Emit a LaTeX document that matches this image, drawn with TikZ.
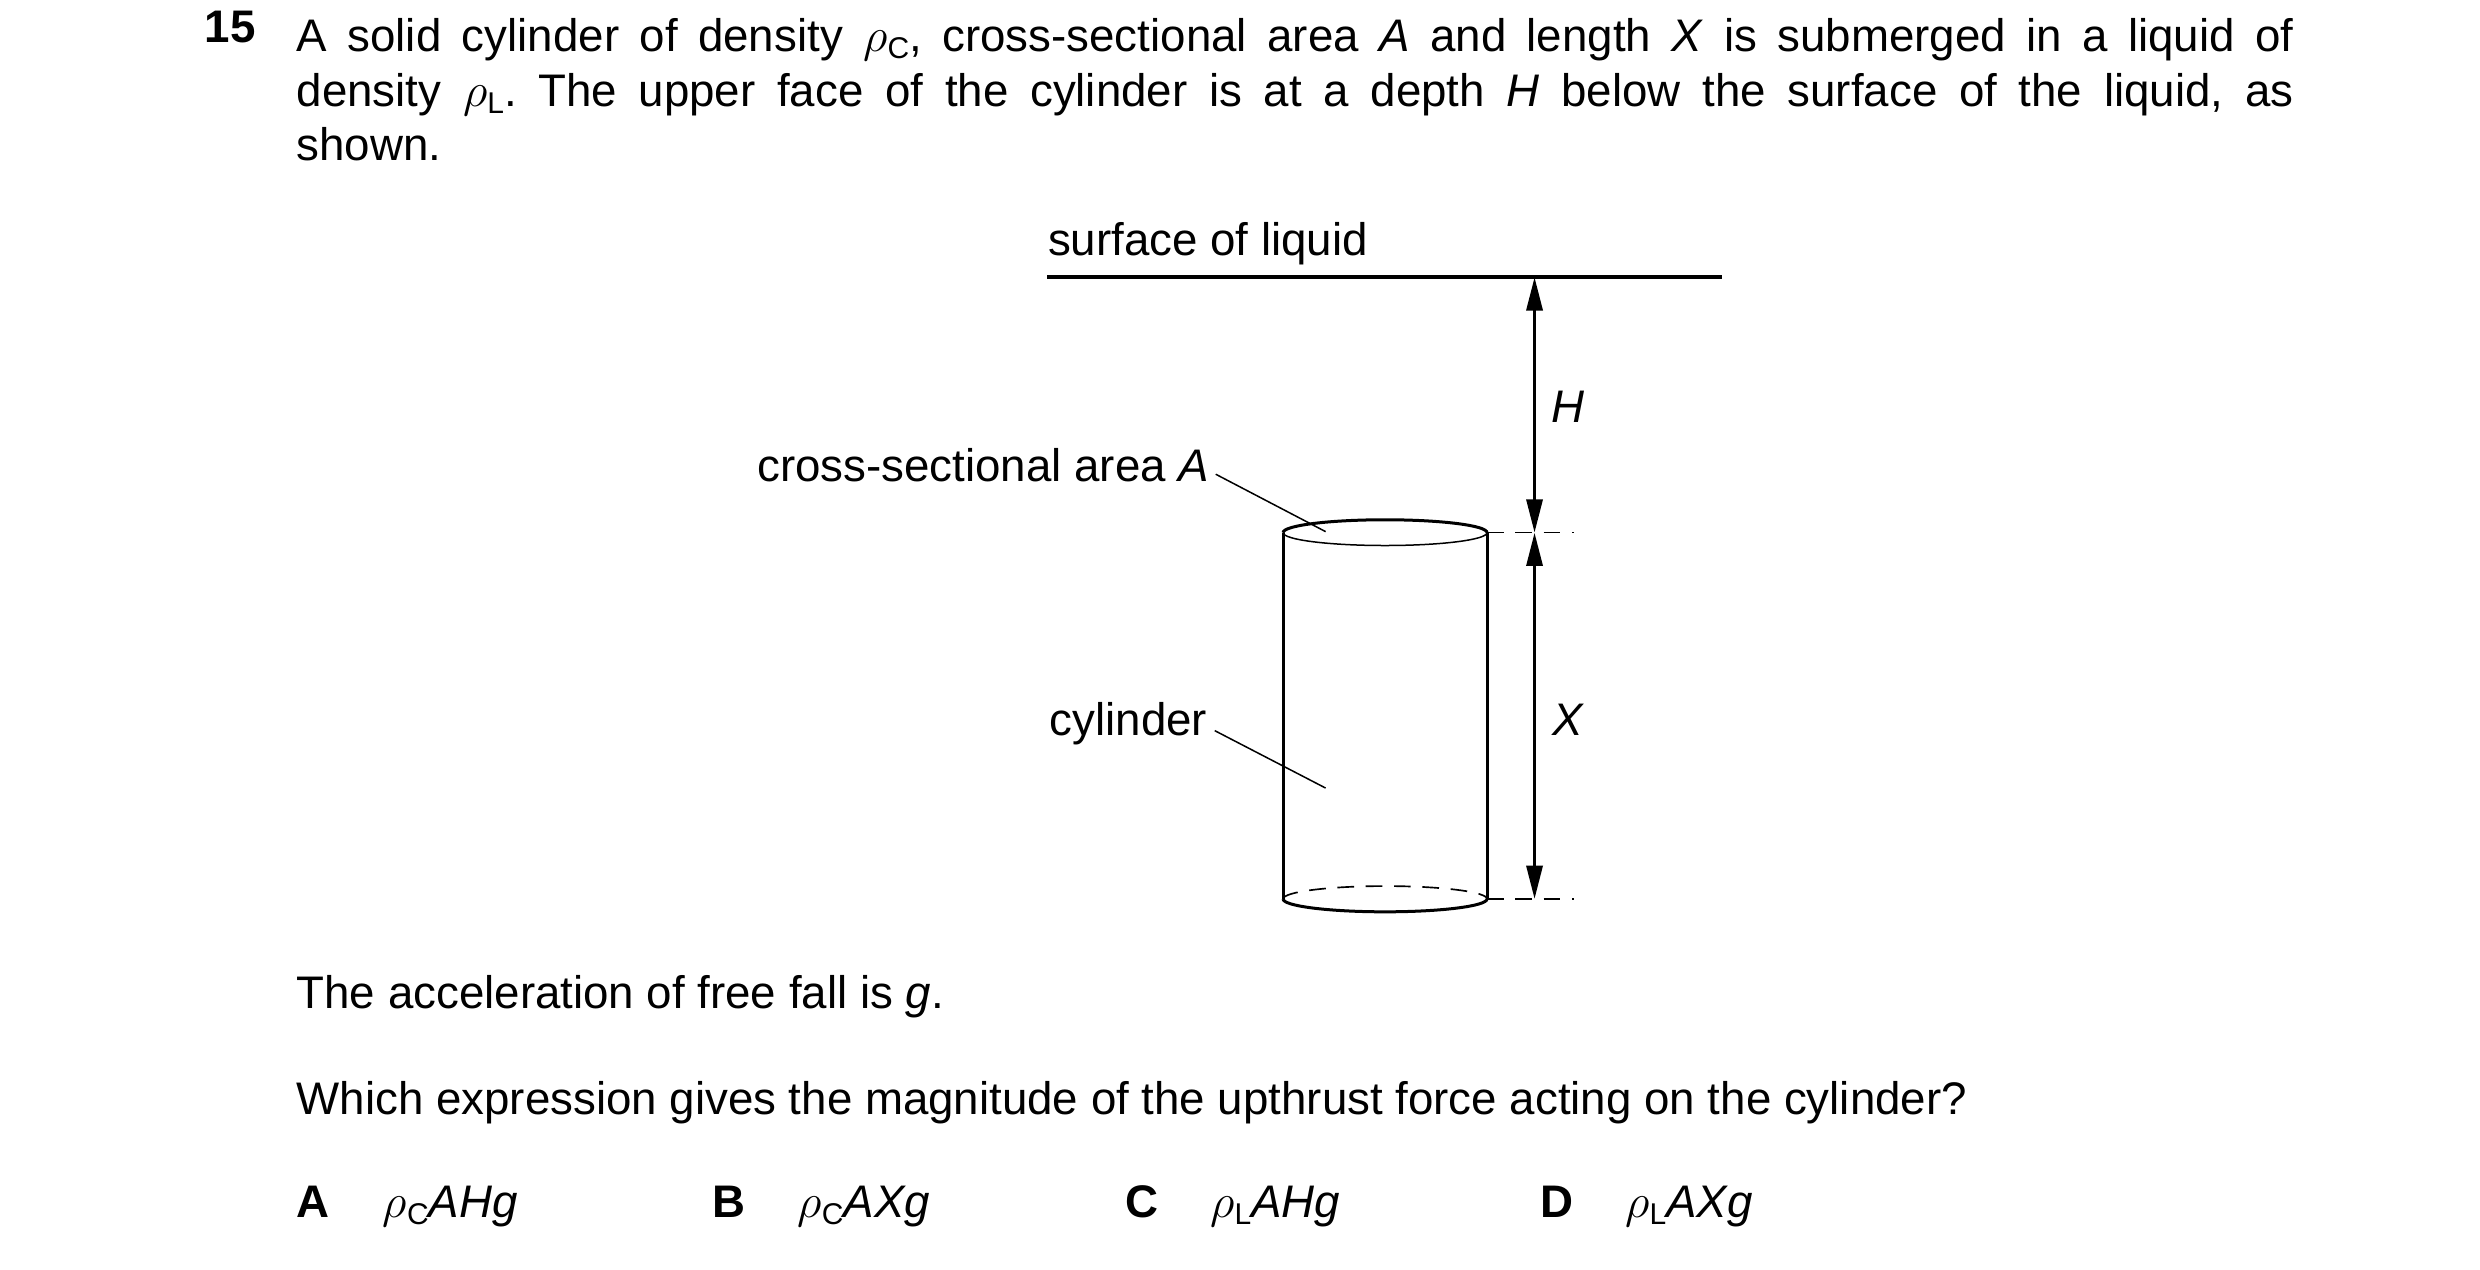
\documentclass[tikz,border=0pt]{standalone}
\usepackage{fontspec}
\setmainfont{Liberation Sans}
\usetikzlibrary{arrows.meta}
\frenchspacing
\newcommand{\rC}{\(\rho\)\raisebox{-0.3ex}{\small C}}
\newcommand{\rL}{\(\rho\)\raisebox{-0.3ex}{\small L}}
\begin{document}
\begin{tikzpicture}[x=0.297pt,y=-0.297pt,
  txt/.style={font=\fontsize{13.7}{16.4}\selectfont,inner sep=0pt},
  bld/.style={font=\fontsize{13.7}{16.4}\selectfont\bfseries,inner sep=0pt},
  thin line/.style={line width=0.45pt},
  body/.style={line width=0.9pt},
  dim/.style={line width=1pt,-{Triangle[length=10pt,width=4.8pt]}},
  dashline/.style={line width=0.5pt,dash pattern=on 5pt off 3.5pt}]
\useasboundingbox (0,0) rectangle (2505,1282);
% question text
\node[bld,anchor=base west] (num) at (206,43) {15};
\node[txt,anchor=north west,text width=599pt,align=justify] (q) at (299,18)
 {A solid cylinder of density \rC, cross-sectional area \textit{A} and length \textit{X} is submerged in a liquid of\linebreak density \rL. The upper face of the cylinder is at a depth \textit{H} below the surface of the liquid, as\linebreak shown.};
% surface
\node[txt,anchor=base west] (surf) at (1058,258) {surface of liquid};
\coordinate (sL) at (1058,280);
\coordinate (sR) at (1739,280);
\draw[line width=1.1pt] (sL) -- (sR);
% cylinder
\coordinate (tl) at (1296,538);
\coordinate (tr) at (1502,538);
\coordinate (bl) at (1296,908);
\coordinate (br) at (1502,908);
\draw[body] (tl) arc[start angle=180,end angle=0,x radius=103,y radius=-13];
\draw[thin line] (tl) arc[start angle=180,end angle=360,x radius=103,y radius=-13];
\draw[body] (tl) -- (bl) (tr) -- (br);
\draw[body] (bl) arc[start angle=180,end angle=360,x radius=103,y radius=-13];
\draw[dashline] (bl) arc[start angle=180,end angle=0,x radius=103,y radius=-13];
% dashed extension lines
\coordinate (tE) at (1590,538);
\coordinate (bE) at (1590,908);
\draw[dashline] (tr) -- (tE);
\draw[dashline] (br) -- (bE);
% dimension arrows
\coordinate (a0) at (1550,280);
\coordinate (a1) at (1550,538);
\coordinate (a2) at (1550,908);
\coordinate (am) at (1550,409);
\coordinate (xm) at (1550,723);
\draw[dim] (am) -- (a0);
\draw[dim] (am) -- (a1);
\draw[dim] (xm) -- (a1);
\draw[dim] (xm) -- (a2);
\node[txt] (H) at (1584,411) {\textit{H}};
\node[txt] (X) at (1584,727) {\textit{X}};
% labels
\node[txt,anchor=base east] (csa) at (1222,486) {cross-sectional area \textit{A}};
\coordinate (csaP) at (1339,537);
\draw[thin line] (1228,479) -- (csaP);
\node[txt,anchor=base east] (cyl) at (1220,743) {cylinder};
\coordinate (cylP) at (1339,796);
\draw[thin line] (1227,738) -- (cylP);
% lower text
\node[txt,anchor=base west] (acc) at (299,1019) {The acceleration of free fall is \textit{g}.};
\node[txt,anchor=base west] (which) at (299,1126) {Which expression gives the magnitude of the upthrust force acting on the cylinder?};
\node[bld,anchor=base west] (oA) at (299,1230) {A};
\node[txt,anchor=base west] (eA) at (386,1230) {\rC\textit{AHg}};
\node[bld,anchor=base west] (oB) at (719,1230) {B};
\node[txt,anchor=base west] (eB) at (805,1230) {\rC\textit{AXg}};
\node[bld,anchor=base west] (oC) at (1136,1230) {C};
\node[txt,anchor=base west] (eC) at (1222,1230) {\rL\textit{AHg}};
\node[bld,anchor=base west] (oD) at (1555,1230) {D};
\node[txt,anchor=base west] (eD) at (1641,1230) {\rL\textit{AXg}};
\end{tikzpicture}
\end{document}
